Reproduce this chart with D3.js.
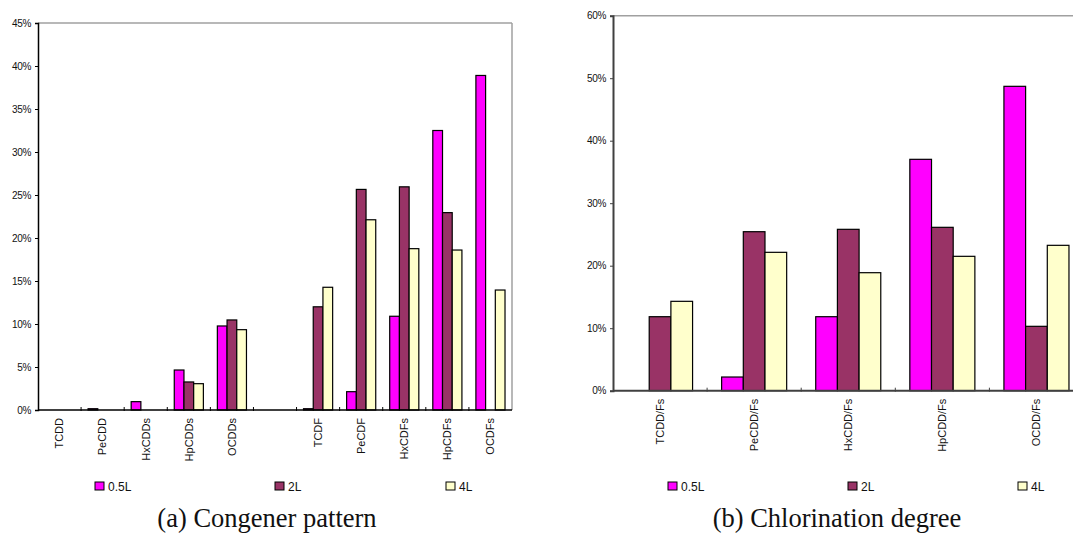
<!DOCTYPE html>
<html>
<head>
<meta charset="utf-8">
<script src="https://cdn.jsdelivr.net/npm/d3@7"></script>
<style>
  body { margin: 0; background: #fff; }
  svg { display: block; }
  .tick text { font-family: Arial, "Liberation Sans", sans-serif; fill: #111; }
</style>
</head>
<body>
<svg id="fig" width="1073" height="545"></svg>
<script>
// Series (sampling volumes) shared by both panels
const series = ["0.5L", "2L", "4L"];
const seriesColors = ["#FF00FF", "#993366", "#FFFFCC"];

// (a) Congener pattern — share of total (%)
const congeners = ["TCDD", "PeCDD", "HxCDDs", "HpCDDs", "OCDDs", "",
                   "TCDF", "PeCDF", "HxCDFs", "HpCDFs", "OCDFs"];
const congener05L = [0, 0.15, 0.97, 4.65, 9.77, null, 0.15, 2.13, 10.9, 32.5, 38.9];
const congener2L  = [0, 0, 0, 3.26, 10.47, null, 12.0, 25.65, 25.95, 22.95, 0];
const congener4L  = [0, 0, 0, 3.06, 9.34, null, 14.27, 22.12, 18.76, 18.6, 13.95];
const congenerTicks = [0, 5, 10, 15, 20, 25, 30, 35, 40, 45];

// (b) Chlorination degree — share of total (%)
const homologues = ["TCDD/Fs", "PeCDD/Fs", "HxCDD/Fs", "HpCDD/Fs", "OCDD/Fs"];
const chlor05L = [0, 2.19, 11.84, 37.02, 48.7];
const chlor2L  = [11.84, 25.44, 25.82, 26.14, 10.3];
const chlor4L  = [14.3, 22.14, 18.88, 21.5, 23.26];
const chlorTicks = [0, 10, 20, 30, 40, 50, 60];

const svg = d3.select("#fig");
const SANS = "Arial, 'Liberation Sans', sans-serif";

function drawPanel(cfg) {
  const g = svg.append("g");
  const x = d3.scaleBand().domain(cfg.categories).range([cfg.x0, cfg.x1]).padding(0);
  const xs = d3.scaleBand().domain(series).range([0, x.bandwidth()])
    .paddingInner(0).paddingOuter(cfg.outerPad);
  const y = d3.scaleLinear().domain([0, cfg.yMax]).range([cfg.y0, cfg.y1]);

  // plot-area frame: light grey top (and right) edge
  g.append("line").attr("x1", cfg.x0).attr("x2", Math.min(cfg.x1, 1073))
    .attr("y1", cfg.y1).attr("y2", cfg.y1)
    .attr("stroke", "#a0a0a0").attr("stroke-width", 1.5);
  if (cfg.x1 <= 1073) {
    g.append("line").attr("x1", cfg.x1).attr("x2", cfg.x1)
      .attr("y1", cfg.y1).attr("y2", cfg.y0)
      .attr("stroke", "#a0a0a0").attr("stroke-width", 1.5);
  }

  // bars
  const rows = cfg.categories.map((c, i) => ({
    cat: c,
    vals: series.map((s, k) => ({ s, k, v: cfg.values[k][i] }))
  }));
  const groups = g.append("g").selectAll("g").data(rows).join("g")
    .attr("transform", d => `translate(${x(d.cat)},0)`);
  groups.selectAll("rect")
    .data(d => d.vals.filter(v => v.v != null && v.v > 0))
    .join("rect")
    .attr("x", d => xs(d.s))
    .attr("width", xs.bandwidth())
    .attr("y", d => y(d.v))
    .attr("height", d => y(0) - y(d.v))
    .attr("fill", d => seriesColors[d.k])
    .attr("stroke", "#000").attr("stroke-width", 1.2);

  // y axis
  const yAxis = d3.axisLeft(y).tickValues(cfg.ticks).tickSize(3).tickPadding(4)
    .tickFormat(d => d + "%");
  const ya = g.append("g").attr("transform", `translate(${cfg.x0},0)`).call(yAxis);
  ya.select(".domain").attr("stroke", cfg.axisColor).attr("stroke-width", cfg.axisWidth);
  ya.selectAll(".tick line").attr("stroke", cfg.axisColor);
  ya.selectAll(".tick text").style("font-size", "10px").style("font-family", SANS)
    .attr("letter-spacing", "-0.3");

  // x axis: boundary ticks between categories
  const xa = g.append("g");
  xa.append("line").attr("x1", cfg.x0).attr("x2", cfg.x1)
    .attr("y1", cfg.y0).attr("y2", cfg.y0)
    .attr("stroke", cfg.axisColor).attr("stroke-width", cfg.axisWidth);
  xa.selectAll("line.b").data(cfg.categories.slice(1)).join("line")
    .attr("class", "b")
    .attr("x1", d => x(d)).attr("x2", d => x(d))
    .attr("y1", cfg.y0 - 3).attr("y2", cfg.y0 + 1)
    .attr("stroke", cfg.axisColor).attr("stroke-width", 1);
  xa.selectAll("text").data(cfg.categories.filter(c => c !== "")).join("text")
    .attr("transform", d => `translate(${x(d) + x.bandwidth() / 2},${cfg.y0 + cfg.labelGap}) rotate(-90)`)
    .attr("text-anchor", "end")
    .attr("dy", "0.35em")
    .style("font-family", SANS).style("font-size", "11px").attr("fill", "#111")
    .text(d => d);

  // legend
  const lg = g.append("g");
  series.forEach((s, k) => {
    const lx = cfg.legendX[k];
    lg.append("rect").attr("x", lx).attr("y", 482).attr("width", 9).attr("height", 8)
      .attr("fill", seriesColors[k]).attr("stroke", "#000").attr("stroke-width", 1);
    lg.append("text").attr("x", lx + 13).attr("y", 490.5)
      .style("font-family", SANS).style("font-size", "12px").attr("fill", "#111")
      .text(s);
  });

  // caption
  g.append("text").attr("x", cfg.captionX).attr("y", 527)
    .attr("text-anchor", "middle")
    .style("font-family", "'Liberation Serif', 'Times New Roman', serif")
    .style("font-size", "26.5px").attr("fill", "#111")
    .text(cfg.caption);
}

drawPanel({
  categories: congeners,
  values: [congener05L, congener2L, congener4L],
  x0: 38, x1: 512, y0: 410, y1: 23, yMax: 45, ticks: congenerTicks,
  outerPad: 0.72, axisColor: "#000", axisWidth: 1.5, labelGap: 8,
  legendX: [95, 275, 446], captionX: 267, caption: "(a) Congener pattern"
});

drawPanel({
  categories: homologues,
  values: [chlor05L, chlor2L, chlor4L],
  x0: 613, x1: 1083.5, y0: 390.7, y1: 15.7, yMax: 60, ticks: chlorTicks,
  outerPad: 0.67, axisColor: "#404040", axisWidth: 2, labelGap: 8,
  legendX: [668, 848, 1018], captionX: 837, caption: "(b) Chlorination degree"
});
</script>
</body>
</html>
